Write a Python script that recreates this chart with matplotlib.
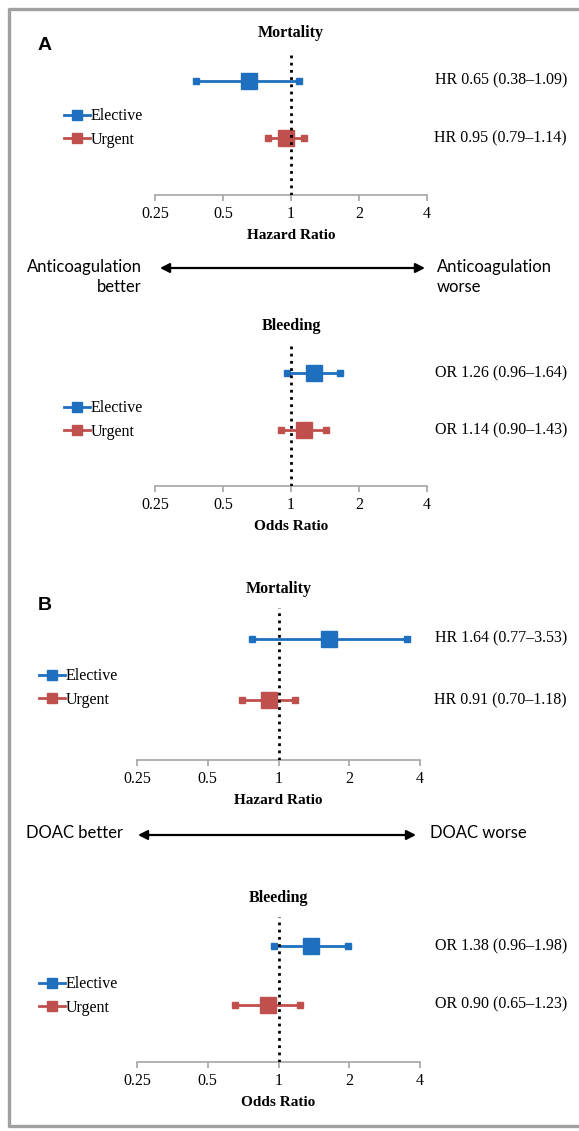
import matplotlib

matplotlib.use("Agg")

import matplotlib.pyplot as plt
import matplotlib.transforms as mtransforms
from matplotlib.lines import Line2D
from matplotlib.patches import FancyArrowPatch

# ---- data -------------------------------------------------------------
groups = ["Elective", "Urgent"]
colors = ["#1F6FBF", "#C0504D"]

a_mort_est = [0.65, 0.95]
a_mort_lo = [0.38, 0.79]
a_mort_hi = [1.09, 1.14]

a_bleed_est = [1.26, 1.14]
a_bleed_lo = [0.96, 0.90]
a_bleed_hi = [1.64, 1.43]

b_mort_est = [1.64, 0.91]
b_mort_lo = [0.77, 0.70]
b_mort_hi = [3.53, 1.18]

b_bleed_est = [1.38, 0.90]
b_bleed_lo = [0.96, 0.65]
b_bleed_hi = [1.98, 1.23]

ticks = [0.25, 0.5, 1, 2, 4]
tick_labels = ["0.25", "0.5", "1", "2", "4"]

W, H = 579, 1131
SERIF = "Liberation Serif"
SANS = "Lato"

fig = plt.figure(figsize=(W / 100, H / 100), dpi=100)


def fx(x):
    return x / W


def fy(y):
    return 1 - y / H


def px_axes(left, right, top, bottom):
    return fig.add_axes([left / W, 1 - bottom / H, (right - left) / W, (bottom - top) / H])


def forest(ax, est, lo, hi, prefix, title, xlabel, legend_xy):
    rows = list(range(len(groups)))
    for r, e, l, h, c in zip(rows, est, lo, hi, colors):
        ax.plot([l, h], [r, r], color=c, lw=2, marker="s", ms=4.5,
                solid_capstyle="butt", zorder=3)
        ax.plot([e], [r], color=c, marker="s", ms=11.5, ls="none", zorder=4)
    ax.axvline(1, color="black", ls=(0, (1, 1.6)), lw=2, zorder=5)
    ax.set_xscale("log", base=2)
    ax.set_xlim(0.25, 4)
    ax.set_ylim(1.98, -0.5)
    ax.set_xticks(ticks)
    ax.set_xticklabels(tick_labels, family=SERIF, fontsize=11.5)
    ax.minorticks_off()
    ax.set_yticks([])
    for s in ["top", "right", "left"]:
        ax.spines[s].set_visible(False)
    ax.spines["bottom"].set_color("#A6A6A6")
    ax.spines["bottom"].set_linewidth(1.2)
    ax.tick_params(axis="x", direction="out", length=4, width=1.2,
                   color="#A6A6A6", pad=4)
    ax.set_xlabel(xlabel, family=SERIF, fontsize=11, fontweight="bold", labelpad=5)
    ax.set_title(title, family=SERIF, fontsize=11.5, fontweight="bold", pad=11)

    # estimate labels, right-aligned near the figure edge
    trans = mtransforms.blended_transform_factory(fig.transFigure, ax.transData)
    for r, e, l, h in zip(rows, est, lo, hi):
        ax.text(fx(567), r, f"{prefix} {e:.2f} ({l:.2f}\u2013{h:.2f})",
                transform=trans, ha="right", va="center",
                family=SERIF, fontsize=11.5)

    handles = [Line2D([], [], color=c, lw=2, marker="s", ms=6.5) for c in colors]
    ax.legend(handles, groups, loc="center left",
              bbox_to_anchor=(fx(legend_xy[0]), fy(legend_xy[1])),
              bbox_transform=fig.transFigure, frameon=False,
              handlelength=1.6, handletextpad=0.05, labelspacing=0.45,
              borderpad=0, borderaxespad=0,
              prop={"family": SERIF, "size": 11.5})


ax1 = px_axes(155, 427, 52, 195)
forest(ax1, a_mort_est, a_mort_lo, a_mort_hi, "HR", "Mortality", "Hazard Ratio", (64, 128))
ax2 = px_axes(155, 427, 345, 486)
forest(ax2, a_bleed_est, a_bleed_lo, a_bleed_hi, "OR", "Bleeding", "Odds Ratio", (64, 420))
ax3 = px_axes(137, 420, 608, 760)
forest(ax3, b_mort_est, b_mort_lo, b_mort_hi, "HR", "Mortality", "Hazard Ratio", (39, 688))
ax4 = px_axes(137, 420, 917, 1062)
forest(ax4, b_bleed_est, b_bleed_lo, b_bleed_hi, "OR", "Bleeding", "Odds Ratio", (39, 996))

# panel letters
fig.text(fx(38), fy(46), "A", family="Liberation Sans", fontweight="bold",
         fontsize=14, ha="left", va="center")
fig.text(fx(38), fy(605), "B", family="Liberation Sans", fontweight="bold",
         fontsize=14, ha="left", va="center")

# direction arrows
for (x0, x1, y) in [(160, 425, 268), (138, 416, 835)]:
    fig.patches.append(FancyArrowPatch((fx(x0), fy(y)), (fx(x1), fy(y)),
                                       transform=fig.transFigure,
                                       arrowstyle="<|-|>,head_length=5.5,head_width=2.8",
                                       color="black", lw=1.6, shrinkA=0, shrinkB=0))
fig.text(fx(142), fy(277), "Anticoagulation\nbetter", family=SANS, fontsize=12,
         ha="right", va="center", linespacing=1.35)
fig.text(fx(437), fy(277), "Anticoagulation\nworse", family=SANS, fontsize=12,
         ha="left", va="center", linespacing=1.35)
fig.text(fx(123), fy(833), "DOAC better", family=SANS, fontsize=12,
         ha="right", va="center")
fig.text(fx(430), fy(833), "DOAC worse", family=SANS, fontsize=12,
         ha="left", va="center")

# grey frame (top, left, bottom)
frame = Line2D([fx(W), fx(8.5), fx(8.5), fx(W)],
               [fy(9), fy(9), fy(1126), fy(1126)],
               transform=fig.transFigure, color="#A0A0A0", lw=2.4)
fig.lines.append(frame)

fig.savefig("out.png", dpi=100)
